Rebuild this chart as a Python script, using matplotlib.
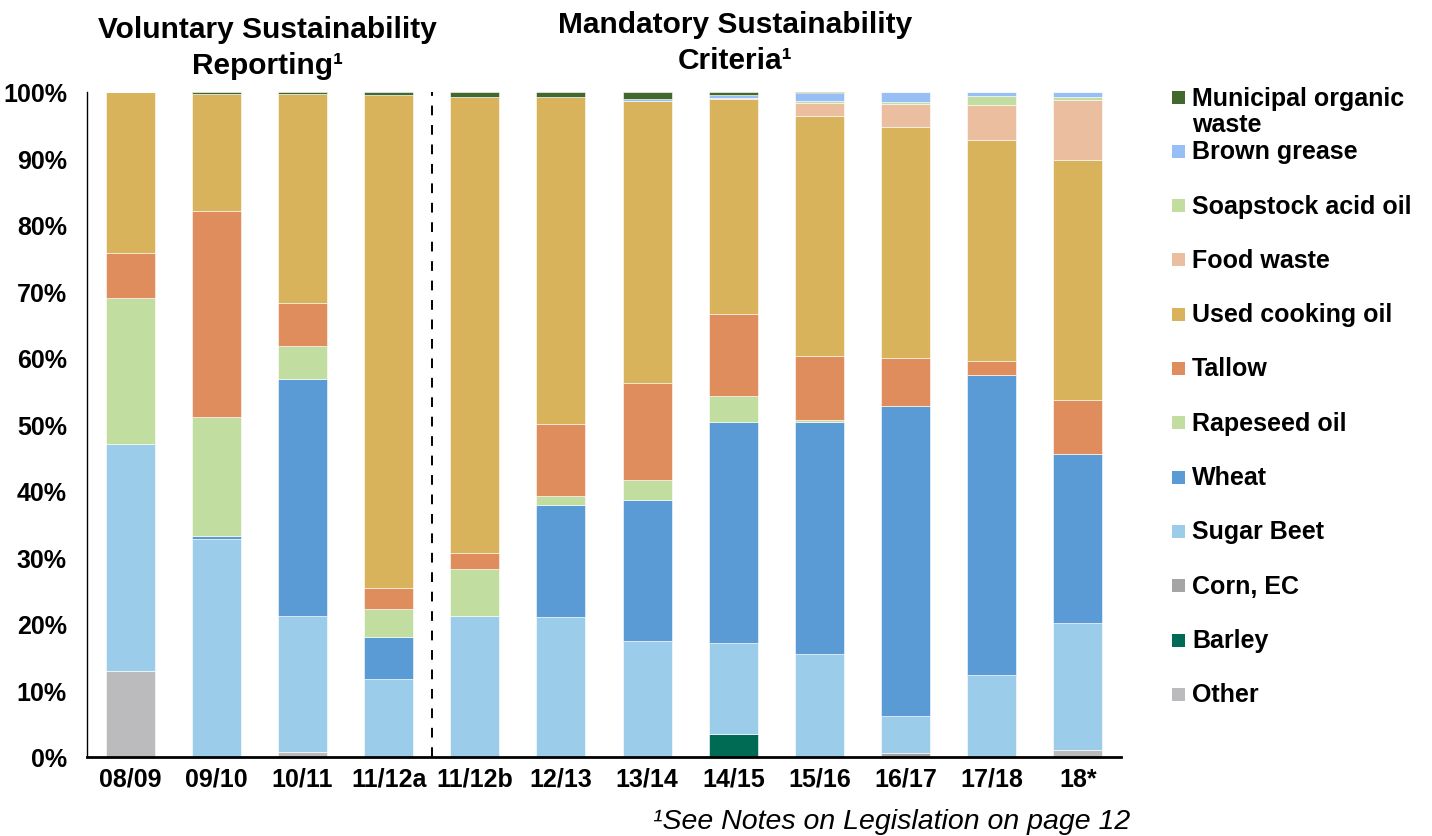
import matplotlib.pyplot as plt
import numpy as np
from matplotlib.patches import Rectangle

plt.rcParams['font.family'] = ['Liberation Sans', 'DejaVu Sans']

categories = ['08/09', '09/10', '10/11', '11/12a', '11/12b', '12/13',
              '13/14', '14/15', '15/16', '16/17', '17/18', '18*']

# shares in % per year, stacked bottom to top
other        = [13.0, 0.0, 0.7, 0.0, 0.0, 0.0, 0.0, 0.0, 0.0, 0.0, 0.0, 1.0]
barley       = [0.0, 0.0, 0.0, 0.0, 0.0, 0.0, 0.0, 3.5, 0.0, 0.0, 0.0, 0.0]
corn_ec      = [0.0, 0.0, 0.0, 0.0, 0.0, 0.0, 0.0, 0.0, 0.0, 0.6, 0.0, 0.0]
sugar_beet   = [34.1, 32.8, 20.5, 11.7, 21.2, 21.1, 17.4, 13.6, 15.5, 5.6, 12.3, 19.2]
wheat        = [0.0, 0.5, 35.6, 6.3, 0.0, 16.8, 21.3, 33.3, 34.9, 46.6, 45.1, 25.4]
rapeseed     = [21.9, 17.8, 5.0, 4.3, 7.1, 1.4, 3.0, 3.9, 0.3, 0.0, 0.0, 0.0]
tallow       = [6.8, 31.0, 6.5, 3.1, 2.3, 10.7, 14.5, 12.3, 9.6, 7.2, 2.1, 8.1]
used_cooking = [24.2, 17.6, 31.4, 74.1, 68.6, 49.3, 42.4, 32.3, 36.1, 34.8, 33.3, 36.1]
food_waste   = [0.0, 0.0, 0.0, 0.0, 0.0, 0.0, 0.0, 0.2, 2.0, 3.4, 5.3, 9.0]
soapstock    = [0.0, 0.0, 0.0, 0.0, 0.0, 0.0, 0.0, 0.0, 0.3, 0.3, 1.3, 0.4]
brown_grease = [0.0, 0.0, 0.0, 0.0, 0.0, 0.0, 0.3, 0.4, 1.1, 1.5, 0.6, 0.8]
municipal    = [0.0, 0.3, 0.3, 0.5, 0.8, 0.7, 1.1, 0.5, 0.2, 0.0, 0.0, 0.0]

series = [
    ('Other', other, '#BBBBBD'),
    ('Barley', barley, '#006B54'),
    ('Corn, EC', corn_ec, '#A5A5A5'),
    ('Sugar Beet', sugar_beet, '#9BCDEA'),
    ('Wheat', wheat, '#5B9BD5'),
    ('Rapeseed oil', rapeseed, '#C2DDA0'),
    ('Tallow', tallow, '#E08D5E'),
    ('Used cooking oil', used_cooking, '#D8B35C'),
    ('Food waste', food_waste, '#EBBEA0'),
    ('Soapstock acid oil', soapstock, '#C2DDA0'),
    ('Brown grease', brown_grease, '#97BFF5'),
    ('Municipal organic\nwaste', municipal, '#43682B'),
]

fig = plt.figure(figsize=(14.32, 8.37), dpi=100)
ax = fig.add_axes([0.0608, 0.0944, 0.722, 0.7945])

x = np.arange(len(categories))
bottom = np.zeros(len(categories))
for name, vals, col in series:
    vals = np.array(vals)
    ax.bar(x, vals, 0.57, bottom=bottom, color=col, edgecolor='white', linewidth=0.4)
    bottom += vals

ax.set_xlim(-0.5, len(categories) - 0.5)
ax.set_ylim(0, 100)
ax.set_yticks(np.arange(0, 101, 10))
ax.set_yticklabels([f'{v}%' for v in range(0, 101, 10)], fontsize=18, fontweight='bold')
ax.set_xticks(x)
ax.set_xticklabels(categories, fontsize=18, fontweight='bold')
ax.tick_params(axis='y', length=0, pad=14.5)
ax.tick_params(axis='x', length=0, pad=7)
for s in ['top', 'right']:
    ax.spines[s].set_visible(False)
ax.spines['left'].set_linewidth(1.0)
ax.spines['bottom'].set_linewidth(2.0)

# split between reporting regimes
ax.axvline(3.5, color='black', linestyle=(0, (5, 5)), linewidth=1.4)

# group headings
fig.text(267 / 1432, 1 - 48 / 837, 'Voluntary Sustainability\nReporting\u00b9', ha='center', va='center',
         fontsize=21.5, fontweight='bold', linespacing=1.33)
fig.text(735 / 1432, 1 - 43 / 837, 'Mandatory Sustainability\nCriteria\u00b9', ha='center', va='center',
         fontsize=21.5, fontweight='bold', linespacing=1.33)

fig.text(1130 / 1432, 1 - 822 / 837, '\u00b9See Notes on Legislation on page 12', ha='right', va='center',
         fontsize=20.5, style='italic')

# legend drawn by hand, top entry first
leg_y0 = 98
leg_step = 54.3
for i, (name, vals, col) in enumerate(reversed(series)):
    yc = leg_y0 + i * leg_step
    fig.patches.append(Rectangle((1172 / 1432, 1 - (yc + 6.5) / 837), 13 / 1432, 13 / 837,
                                 transform=fig.transFigure, facecolor=col, edgecolor='none'))
    if '\n' in name:
        fig.text(1192 / 1432, 1 - (yc - 11) / 837, name, ha='left', va='top',
                 fontsize=18, fontweight='bold', linespacing=1.12)
    else:
        fig.text(1192 / 1432, 1 - yc / 837, name, ha='left', va='center',
                 fontsize=18, fontweight='bold')

fig.savefig('out.png', dpi=100)
